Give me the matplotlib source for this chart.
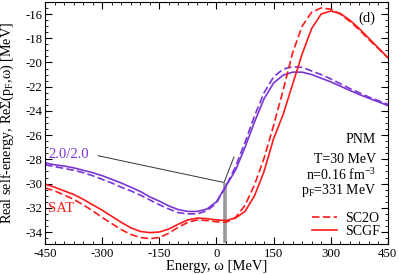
import matplotlib
matplotlib.use("Agg")
import matplotlib.pyplot as plt
from matplotlib.ticker import MultipleLocator

plt.rcParams['font.family'] = ['Liberation Serif', 'DejaVu Serif']
plt.rcParams['mathtext.fontset'] = 'custom'
plt.rcParams['mathtext.rm'] = 'Liberation Serif'
plt.rcParams['mathtext.it'] = 'Liberation Serif:italic'
plt.rcParams['axes.unicode_minus'] = False

RED = '#ff1a1a'
PURPLE = '#7a35d5'

energy = list(range(-450, 451, 25))

# SCGF, SAT
scgf_sat = [-30.05, -30.3, -30.6, -30.9, -31.3, -31.75, -32.2, -32.7, -33.2, -33.65,
            -33.95, -34.05, -34.0, -33.75, -33.35, -33.0, -32.85, -32.9, -33.0, -33.05,
            -32.85, -32.3, -31.0, -29.0, -26.3, -24.3, -21.8, -19.3, -17.2, -16.0,
            -15.75, -15.95, -16.5, -17.2, -18.0, -18.8, -19.6]
# SC2O, SAT
sc2o_sat = [-30.35, -30.6, -30.95, -31.3, -31.75, -32.25, -32.8, -33.3, -33.8, -34.2,
            -34.45, -34.55, -34.45, -34.1, -33.6, -33.2, -33.0, -33.05, -33.15, -33.2,
            -32.8, -31.8, -30.1, -27.9, -25.2, -22.3, -19.2, -17.0, -15.85, -15.5,
            -15.6, -16.0, -16.6, -17.3, -18.1, -18.85, -19.6]
# SCGF, 2.0/2.0
scgf_20 = [-28.3, -28.45, -28.55, -28.7, -28.9, -29.1, -29.35, -29.65, -29.95, -30.3,
           -30.65, -31.1, -31.45, -31.85, -32.15, -32.3, -32.3, -32.1, -31.5, -30.2,
           -28.9, -27.0, -24.9, -23.0, -21.7, -21.05, -20.8, -20.8, -21.0, -21.3,
           -21.6, -21.95, -22.3, -22.65, -22.95, -23.25, -23.55]
# SC2O, 2.0/2.0
sc2o_20 = [-28.45, -28.6, -28.75, -28.9, -29.1, -29.35, -29.65, -29.95, -30.3, -30.6,
           -30.95, -31.35, -31.75, -32.1, -32.4, -32.5, -32.5, -32.25, -31.6, -30.2,
           -28.6, -26.6, -24.4, -22.5, -21.2, -20.55, -20.35, -20.4, -20.7, -21.0,
           -21.35, -21.75, -22.15, -22.5, -22.85, -23.15, -23.45]

# marker at the Fermi energy and the slope sketch
mu_x = [23, 23]
mu_y = [-29.95, -34.9]
pointer_x = [-311, 18]
pointer_y = [-27.7, -29.9]
tangent_x = [20, 46]
tangent_y = [-29.9, -27.8]

fig = plt.figure(figsize=(3.99, 2.74), dpi=100)
ax = fig.add_axes([0.113, 0.109, 0.859, 0.884])

ax.plot(mu_x, mu_y, color='#999999', lw=2.6, solid_capstyle='butt', zorder=1)
ax.plot(pointer_x, pointer_y, color='#333333', lw=0.7)
ax.plot(tangent_x, tangent_y, color='#333333', lw=0.7)

ax.plot(energy, sc2o_20, color=PURPLE, lw=1.2, dashes=(4.5, 2))
ax.plot(energy, scgf_20, color=PURPLE, lw=1.2)
ax.plot(energy, sc2o_sat, color=RED, lw=1.2, dashes=(4.5, 2), label='SC2O')
ax.plot(energy, scgf_sat, color=RED, lw=1.2, label='SCGF')

ax.set_xlim(-450, 450)
ax.set_ylim(-35, -15)
ax.xaxis.set_major_locator(MultipleLocator(150))
ax.xaxis.set_minor_locator(MultipleLocator(25))
ax.yaxis.set_major_locator(MultipleLocator(2))
ax.yaxis.set_minor_locator(MultipleLocator(0.5))
ax.tick_params(which='both', direction='in', top=True, right=True, labelsize=9.2)
ax.tick_params(axis='x', pad=2.5)
ax.tick_params(axis='y', pad=2)
ax.tick_params(which='major', length=5, width=0.8)
ax.tick_params(which='minor', length=2.5, width=0.6)

ax.set_xlabel('Energy, ω [MeV]', fontsize=10.5)
ax.xaxis.set_label_coords(0.5, -0.067)
ax.set_ylabel(r'Real self-energy, ReΣ(p$_\mathrm{F}$,ω) [MeV]', fontsize=10.2)
ax.yaxis.set_label_coords(-0.085, 0.5)

ax.text(416, -16.33, '(d)', fontsize=10.5, ha='right', va='center')
ax.text(-442, -27.6, '2.0/2.0', color=PURPLE, fontsize=10.5, va='center')
ax.text(-442, -32.05, 'SAT', color=RED, fontsize=10.5, va='center')

info = ['PNM', 'T=30 MeV', r'n=0.16 fm$^{-3}$', r'p$_\mathrm{F}$=331 MeV']
info_y = [-26.34, -28.0, -29.3, -30.6]
for s, yy in zip(info, info_y):
    ax.text(419, yy, s, fontsize=10, ha='right', va='center')

ax.legend(loc='lower right', bbox_to_anchor=(0.977, 0.025), frameon=False, fontsize=10,
          handlelength=1.8, handletextpad=0.55, labelspacing=0.0, borderpad=0.0,
          borderaxespad=0.0)

fig.savefig('out.png', dpi=100)
